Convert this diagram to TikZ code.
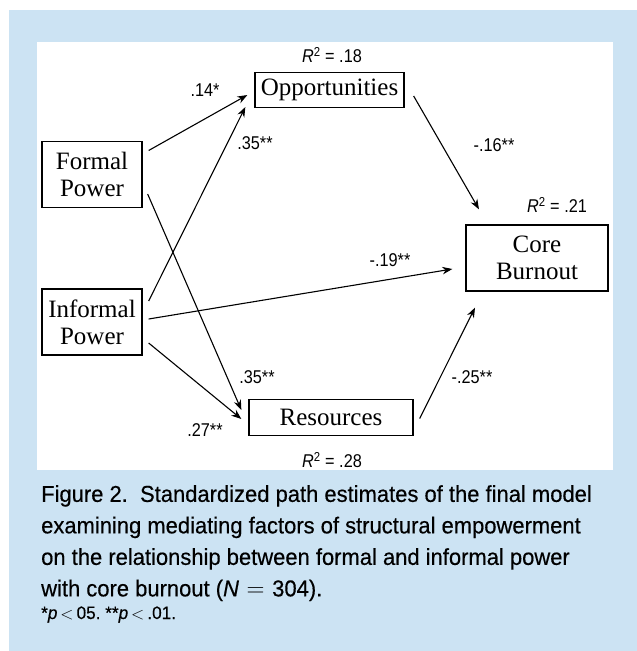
\documentclass[tikz,border=0pt]{standalone}
\usepackage{fontspec}
\setmainfont{Liberation Serif}
\newfontfamily\capfont[FakeStretch=0.955, FakeBold=0.4]{Liberation Sans}
\newfontfamily\lblfont[FakeStretch=0.88]{Liberation Sans}
\usetikzlibrary{arrows.meta, positioning}
\definecolor{panelblue}{RGB}{204,227,243}

\begin{document}
\begin{tikzpicture}[x=1pt, y=1pt,
    box/.style={draw, line width=1.3pt, align=center, inner sep=0pt,
        font=\fontsize{25}{27}\selectfont},
    path/.style={-{Stealth[length=10pt,width=7.5pt]}, line width=1.1pt},
    est/.style={font=\lblfont\fontsize{18.5}{20}\selectfont, inner sep=0pt}]
    \useasboundingbox (0,0) rectangle (637,-651);

    % Hintergrund: blaues Feld und weisse Flaeche der Grafik
    \fill[panelblue] (9,-10) rectangle (637,-651);
    \fill[white] (37,-42) rectangle (613,-470);

    % Kaesten
    \node[box, minimum width=100, minimum height=66] (formal) at (92,-174.5) {Formal\\Power};
    \node[box, minimum width=100, minimum height=66] (informal) at (92,-322) {Informal\\Power};
    \node[box, minimum width=149, minimum height=35] (opp) at (329.5,-90) {Opportunities};
    \node[box, minimum width=164, minimum height=36] (res) at (331,-417.5) {Resources};
    \node[box, minimum width=142, minimum height=66] (core) at (537,-258) {Core\\Burnout};

    % R^2 Werte
    \node[est] (r2opp) at (332,-55) {\textit{R}\textsuperscript{2} = .18};
    \node[est] (r2res) at (332,-460) {\textit{R}\textsuperscript{2} = .28};
    \node[est] (r2core) at (557,-205) {\textit{R}\textsuperscript{2} = .21};

    % Pfade
    \draw[path] ([xshift=6pt,yshift=24pt]formal.east) -- ([xshift=-7pt,yshift=-5pt]opp.west);
    \draw[path] ([xshift=6pt,yshift=21pt]informal.east) -- ([xshift=-9pt,yshift=-17pt]opp.west);
    \draw[path] ([xshift=5pt,yshift=-19.5pt]formal.east) -- ([xshift=-7pt,yshift=7.5pt]res.west);
    \draw[path] ([xshift=6pt,yshift=-21pt]informal.east) -- ([xshift=-7pt,yshift=-1.5pt]res.west);
    \draw[path] ([xshift=6pt,yshift=3pt]informal.east) -- ([xshift=-13pt,yshift=-11pt]core.west);
    \draw[path] ([xshift=9pt,yshift=-6pt]opp.east) -- ([xshift=-58pt,yshift=15pt]core.north);
    \draw[path] ([xshift=6pt,yshift=-1pt]res.east) -- ([xshift=-62pt,yshift=-16pt]core.south);

    % Pfadkoeffizienten
    \node[est] (b1) at (205,-90) {.14*};
    \node[est] (b2) at (255,-143) {.35**};
    \node[est] (b3) at (494,-145) {-.16**};
    \node[est] (b4) at (390,-260) {-.19**};
    \node[est] (b5) at (257,-377) {.35**};
    \node[est] (b6) at (205,-430) {.27**};
    \node[est] (b7) at (472,-377) {-.25**};

    % Bildunterschrift
    \node[anchor=north west, align=left, inner sep=0pt,
        font=\capfont\fontsize{23}{31.5}\selectfont] (caption) at (41,-485)
        {Figure 2.~~Standardized path estimates of the final model\\
         examining mediating factors of structural empowerment\\
         on the relationship between formal and informal power\\
         with core burnout (\textit{N}\,\,$=$\,\,304).};
    \node[anchor=base west, inner sep=0pt, font=\capfont\fontsize{18}{20}\selectfont]
        (note) at (41,-619) {*\textit{p}\,$<$\,05.~**\textit{p}\,$<$\,.01.};
\end{tikzpicture}
\end{document}
